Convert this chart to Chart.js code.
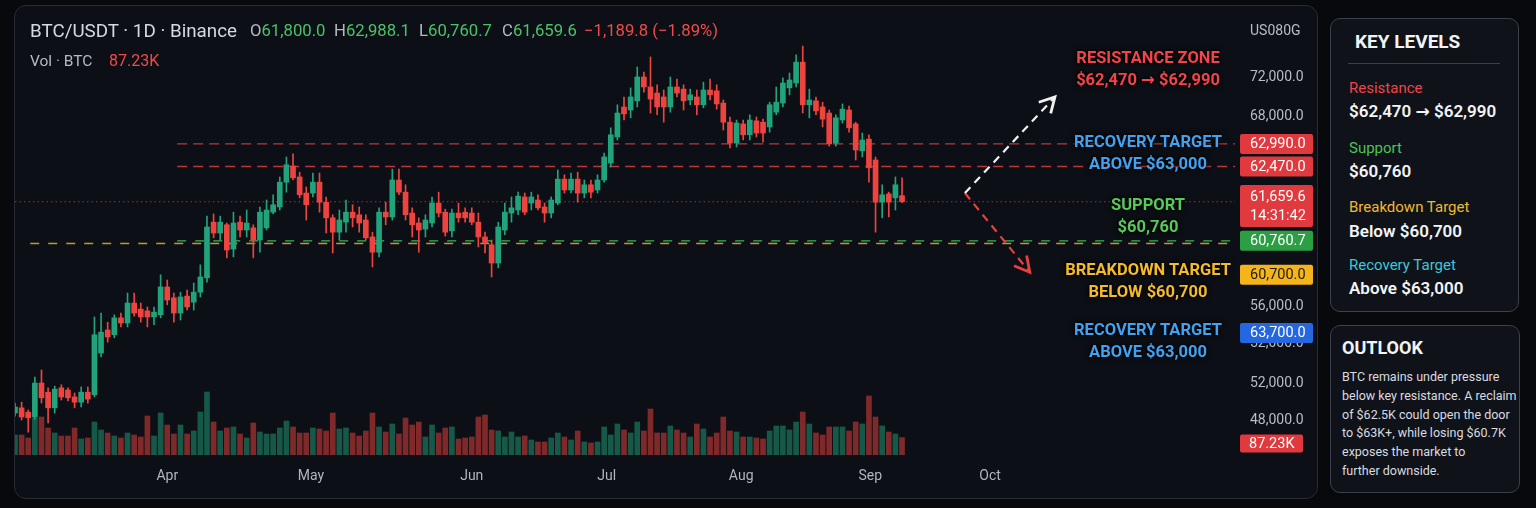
<!DOCTYPE html>
<html>
<head>
<meta charset="utf-8">
<script src="https://cdn.jsdelivr.net/npm/chart.js@4.4.1/dist/chart.umd.min.js"></script>
<style>
html, body { margin: 0; padding: 0; background: #08090d; }
#page { position: relative; width: 1536px; height: 508px; overflow: hidden; font-family: Roboto, "DejaVu Sans", sans-serif; }
#panel { position: absolute; left: 14px; top: 5px; width: 1302px; height: 492px; border: 1px solid #262b34; border-radius: 12px; background: #0c0f15; }
#c { position: absolute; left: 0; top: 0; }
.abs { position: absolute; white-space: nowrap; }
.hdr { font-size: 16.7px; line-height: 20px; top: 21px; color: #b7bac2; }
.up { color: #4cc26a; }
.dn { color: #f04a4a; }
.ann { position: absolute; left: 1038px; width: 220px; text-align: center; font-weight: 700; font-size: 16.5px; line-height: 22px; text-shadow: 0 0 6px #000, 0 0 3px #000; }
.card { position: absolute; box-sizing: border-box; border: 1.5px solid #3b404a; border-radius: 10px; background: #0f1319; }
.kl { position: absolute; left: 1349px; white-space: nowrap; font-size: 15px; line-height: 20px; }
.kv { position: absolute; left: 1349px; white-space: nowrap; font-size: 17px; line-height: 20px; font-weight: 600; color: #f3f4f6; }
</style>
</head>
<body>
<div id="page">
  <div id="panel"></div>
  <canvas id="c" width="1320" height="508"></canvas>

  <div class="abs" style="left:30px;top:19px;font-size:18.8px;line-height:24px;color:#d6d9e0;">BTC/USDT · 1D · Binance</div>
  <div class="abs hdr" style="left:250px;">O<span class="up">61,800.0</span></div>
  <div class="abs hdr" style="left:334px;">H<span class="up">62,988.1</span></div>
  <div class="abs hdr" style="left:419px;">L<span class="up">60,760.7</span></div>
  <div class="abs hdr" style="left:502px;">C<span class="up">61,659.6</span></div>
  <div class="abs hdr dn" style="left:584px;">−1,189.8 (−1.89%)</div>
  <div class="abs" style="left:30px;top:51px;font-size:15.5px;line-height:20px;color:#b7bac2;">Vol · BTC</div>
  <div class="abs dn" style="left:109px;top:51px;font-size:16px;line-height:20px;">87.23K</div>
  <div class="abs" style="left:1250px;top:21px;font-size:14px;line-height:18px;color:#b9bcc4;">US080G</div>

  <div class="ann" style="top:47px;color:#f2444a;">RESISTANCE ZONE<br>$62,470 → $62,990</div>
  <div class="ann" style="top:131px;color:#40a2f2;">RECOVERY TARGET<br>ABOVE $63,000</div>
  <div class="ann" style="top:194px;color:#58c95b;">SUPPORT<br>$60,760</div>
  <div class="ann" style="top:259px;color:#f6bb2a;">BREAKDOWN TARGET<br>BELOW $60,700</div>
  <div class="ann" style="top:319px;color:#40a2f2;">RECOVERY TARGET<br>ABOVE $63,000</div>

  <div class="card" style="left:1330px;top:18px;width:189px;height:294px;"></div>
  <div class="abs" style="left:1355px;top:30px;font-size:19px;line-height:24px;font-weight:700;color:#f2f3f5;">KEY LEVELS</div>
  <div class="abs" style="left:1348px;top:63px;width:152px;height:1px;background:#3a3f48;"></div>
  <div class="kl" style="top:78px;color:#f0444a;">Resistance</div>
  <div class="kv" style="top:101px;">$62,470 → $62,990</div>
  <div class="kl" style="top:138px;color:#4cc25a;">Support</div>
  <div class="kv" style="top:161px;">$60,760</div>
  <div class="kl" style="top:197px;color:#f2b92c;">Breakdown Target</div>
  <div class="kv" style="top:221px;">Below $60,700</div>
  <div class="kl" style="top:255px;color:#3fc6da;">Recovery Target</div>
  <div class="kv" style="top:278px;">Above $63,000</div>

  <div class="card" style="left:1330px;top:325px;width:190px;height:168px;"></div>
  <div class="abs" style="left:1342px;top:337px;font-size:18px;line-height:22px;font-weight:700;color:#f2f3f5;">OUTLOOK</div>
  <div class="abs" style="left:1342px;top:368px;font-size:12.5px;line-height:18.8px;color:#d9dbe0;">BTC remains under pressure<br>below key resistance. A reclaim<br>of $62.5K could open the door<br>to $63K+, while losing $60.7K<br>exposes the market to<br>further downside.</div>
</div>

<script>
// daily candles, oldest first
const openP = [
  56800, 56920, 56820, 56710, 57490, 57280, 56920, 57380, 57330, 57170,
  57050, 57280, 57220, 58180, 58710, 58600, 58990, 58870, 59330, 59190,
  59150, 59010, 59060, 59700, 59450, 59100, 59490, 59350, 59580, 59910,
  61190, 60940, 61130, 60570, 61190, 61010, 61060, 60780, 61060, 61420,
  61540, 62110, 62480, 62230, 61860, 61860, 62110, 61650, 61290, 60960,
  61190, 61420, 61360, 61240, 60850, 60500, 61420, 61310, 62160, 61880,
  61400, 61170, 61030, 61170, 61630, 61420, 60990, 61400, 61420, 61400,
  61190, 60850, 60670, 60250, 61010, 61400, 61470, 61770, 61630, 61700,
  61540, 61400, 61630, 62180, 61930, 62180, 61860, 62050, 61930, 62160,
  62550, 63150, 63840, 63770, 63980, 64530, 64300, 64160, 64070, 63840,
  64300, 64250, 64000, 64070, 63890, 64230, 64210, 63930, 63490, 63010,
  63450, 63200, 63520, 63490, 63380, 63720, 63930, 64280, 64390, 64870,
  63890, 63980, 63840, 63700, 63010, 63540, 63770, 63450, 62830, 63100,
  62620, 61650, 61840, 61750, 61800
];
const highP = [
  57030, 57050, 56870, 57630, 57790, 57380, 57420, 57450, 57380, 57260,
  57400, 57400, 59010, 59100, 58890, 59060, 59100, 59560, 59560, 59330,
  59240, 59240, 59980, 59860, 59560, 59580, 59630, 59790, 60210, 61330,
  61380, 61330, 61170, 61420, 61330, 61470, 61130, 61540, 61700, 61820,
  62230, 62690, 62760, 62340, 62000, 62320, 62320, 61770, 61360, 61470,
  61700, 61590, 61540, 61360, 60960, 61520, 61650, 62410, 62410, 62050,
  61520, 61290, 61360, 61770, 61880, 61490, 61490, 61630, 61520, 61520,
  61400, 60960, 60780, 61190, 61630, 61770, 61880, 61860, 61880, 61820,
  61630, 61770, 62390, 62280, 62320, 62340, 62160, 62160, 62280, 62780,
  63360, 63890, 64070, 64280, 64760, 64640, 64990, 64350, 64230, 64530,
  64480, 64350, 64250, 64230, 64410, 64480, 64350, 64000, 63610, 63540,
  63540, 63660, 63610, 63560, 63950, 64300, 64510, 64620, 65040, 65240,
  64250, 64070, 63950, 63770, 63660, 63910, 63860, 63490, 63240, 63200,
  62690, 62050, 61880, 62230, 62210
];
const lowP = [
  56730, 56640, 56360, 56660, 57030, 56570, 56800, 57100, 57080, 56920,
  56940, 57030, 57170, 58090, 58430, 58530, 58780, 58780, 59030, 58890,
  58780, 58830, 58990, 59290, 58890, 58940, 59170, 59170, 59470, 59810,
  60830, 60780, 60370, 60390, 60850, 60850, 60370, 60500, 61010, 61380,
  61470, 61880, 62160, 61750, 61240, 61770, 61420, 60940, 60480, 60780,
  60960, 61080, 60960, 60780, 60160, 60390, 61130, 61240, 61820, 61240,
  60850, 60500, 60850, 61080, 61310, 60870, 60850, 61190, 61190, 61130,
  60620, 60480, 59930, 60140, 60900, 61190, 61360, 61360, 61470, 61470,
  61190, 61290, 61590, 61860, 61860, 61650, 61750, 61750, 61860, 62110,
  62460, 63080, 63540, 63590, 63840, 64180, 63700, 63660, 63490, 63720,
  64070, 63770, 63890, 63660, 63820, 64000, 63790, 63310, 62900, 62920,
  63080, 63080, 63150, 63030, 63260, 63660, 63840, 64120, 64300, 63700,
  63590, 63660, 63380, 62940, 62940, 63470, 63260, 62620, 62690, 62110,
  60960, 61290, 61310, 61470, 61640
];
const closeP = [
  56940, 56710, 56690, 57490, 57150, 56920, 57350, 57170, 57150, 57050,
  57280, 57120, 58600, 58660, 58550, 58990, 58870, 59330, 59100, 59010,
  59010, 59120, 59700, 59400, 59100, 59470, 59240, 59580, 59930, 61080,
  60940, 61190, 60550, 61170, 61010, 61170, 60780, 61420, 61470, 61590,
  62110, 62510, 62210, 61820, 61590, 62110, 61650, 61290, 60960, 61240,
  61420, 61290, 61170, 60830, 60500, 61420, 61310, 62160, 61880, 61360,
  61130, 61010, 61240, 61630, 61400, 60960, 61400, 61290, 61290, 61190,
  60850, 60710, 60250, 61080, 61420, 61520, 61790, 61420, 61770, 61520,
  61400, 61700, 62180, 61930, 62180, 61860, 62050, 61880, 62160, 62690,
  63200, 63700, 63680, 64070, 64530, 64300, 64020, 63840, 63840, 64300,
  64160, 63980, 64120, 63890, 64230, 64120, 63910, 63490, 63010, 63470,
  63200, 63540, 63240, 63240, 63890, 63950, 64390, 64460, 64870, 63890,
  64000, 63750, 63560, 62990, 63590, 63790, 63360, 62850, 63080, 62440,
  61650, 61820, 61650, 62050, 61659.6
];
// volume in thousand BTC
const volumes = [
  100, 100, 85, 185, 190, 135, 110, 95, 95, 135,
  80, 85, 165, 125, 110, 95, 85, 110, 100, 90,
  195, 95, 210, 150, 105, 150, 105, 120, 215, 315,
  165, 120, 135, 140, 105, 85, 160, 115, 105, 105,
  135, 170, 140, 110, 110, 135, 130, 120, 210, 130,
  135, 110, 95, 120, 210, 140, 115, 155, 105, 185,
  150, 165, 90, 150, 110, 135, 140, 80, 85, 90,
  190, 200, 125, 120, 90, 115, 90, 95, 75, 65,
  65, 85, 110, 90, 75, 120, 65, 60, 65, 140,
  100, 155, 125, 110, 165, 120, 230, 110, 110, 145,
  125, 110, 90, 155, 130, 90, 110, 190, 120, 115,
  90, 90, 85, 80, 120, 145, 145, 125, 165, 215,
  155, 110, 100, 140, 140, 140, 120, 165, 155, 295,
  190, 145, 115, 105, 87.23
];

const monthLabels = ["Apr", "May", "Jun", "Jul", "Aug", "Sep", "Oct"];
const monthAt = [23, 44.7, 69, 89.4, 109.7, 129.2, 147.3];

const priceTicks = [64510, 63610, 59240, 58410, 57490, 56620];
const priceTickLabels = ["72,000.0", "68,000.0", "56,000.0", "52,000.0", "52,000.0", "48,000.0"];

const resistanceHigh = 62990;
const resistanceLow = 62470;
const lastPrice = 61659.6;
const supportLevel = 60760.7;
const breakdownLevel = 60700;

const tagTexts = [["62,990.0"], ["62,470.0"], ["61,659.6", "14:31:42"], ["60,760.7"], ["60,700.0"], ["63,700.0"]];
const tagAnchors = [62990, 62470, 61560, 60760.7, 59980, 58640];

// scenario arrows: [start index, start price, end index, end price]
const upArrow = [143.5, 61860, 157.1, 64070];
const downArrow = [143.5, 61860, 153.3, 60040];

const GREEN = "#22a37b";
const RED = "#ee4440";

const idx = openP.map((_, i) => i);
const isUp = idx.map(i => closeP[i] >= openP[i]);

const levelLines = [
    { value: resistanceHigh, from: 24.5, color: "rgba(222,62,64,0.85)", dash: [10, 6], width: 1.4 },
    { value: resistanceLow, from: 24.5, color: "rgba(222,62,64,0.85)", dash: [10, 6], width: 1.4 },
    { value: lastPrice, from: 0, color: "rgba(205,70,80,0.7)", dash: [1.5, 3], width: 1 },
    { value: supportLevel, from: 24.5, color: "rgba(50,160,85,0.95)", dash: [9, 9], width: 1.5 },
    { value: breakdownLevel, from: 2.3, color: "rgba(205,160,40,0.95)", dash: [9, 9], width: 1.5 }
];
const tagFills = ["#e03a3e", "#e03a3e", "#e03a3e", "#2c9f45", "#f4b41a", "#2467e0"];

function drawArrow(ctx, x0, y0, x1, y1, color) {
    ctx.save();
    ctx.strokeStyle = color;
    ctx.lineWidth = 2.2;
    ctx.setLineDash([8, 6]);
    ctx.beginPath();
    ctx.moveTo(x0, y0);
    ctx.lineTo(x1, y1);
    ctx.stroke();
    ctx.setLineDash([]);
    ctx.lineWidth = 2.8;
    const a = Math.atan2(y1 - y0, x1 - x0);
    ctx.beginPath();
    ctx.moveTo(x1 - 17 * Math.cos(a - 0.5), y1 - 17 * Math.sin(a - 0.5));
    ctx.lineTo(x1, y1);
    ctx.lineTo(x1 - 17 * Math.cos(a + 0.5), y1 - 17 * Math.sin(a + 0.5));
    ctx.stroke();
    ctx.restore();
}

const overlay = {
    id: "overlay",
    beforeDatasetsDraw(chart) {
        const { ctx, chartArea, scales } = chart;
        ctx.save();
        ctx.beginPath();
        ctx.rect(chartArea.left, chartArea.top, chartArea.right - chartArea.left, chartArea.bottom - chartArea.top);
        ctx.clip();
        levelLines.forEach(l => {
            const y = scales.y.getPixelForValue(l.value);
            ctx.strokeStyle = l.color;
            ctx.lineWidth = l.width;
            ctx.setLineDash(l.dash);
            ctx.beginPath();
            ctx.moveTo(scales.x.getPixelForValue(l.from), y);
            ctx.lineTo(chartArea.right, y);
            ctx.stroke();
        });
        ctx.restore();
    },
    afterDatasetsDraw(chart) {
        const { ctx, scales } = chart;
        const px = a => [scales.x.getPixelForValue(a[0]), scales.y.getPixelForValue(a[1]),
                         scales.x.getPixelForValue(a[2]), scales.y.getPixelForValue(a[3])];
        drawArrow(ctx, ...px(downArrow), "#e8403f");
        drawArrow(ctx, ...px(upArrow), "#f2f2f2");
    },
    afterDraw(chart) {
        const { ctx, scales } = chart;
        ctx.save();
        ctx.font = "14.5px Roboto";
        ctx.textBaseline = "middle";
        tagTexts.forEach((lines, i) => {
            const h = lines.length === 1 ? 20 : 42;
            const top = scales.y.getPixelForValue(tagAnchors[i]) - h / 2;
            ctx.fillStyle = tagFills[i];
            ctx.beginPath();
            ctx.roundRect(1240, top, 73, h, 2);
            ctx.fill();
            ctx.fillStyle = tagFills[i] === "#f4b41a" ? "#1b1b1b" : "#ffffff";
            lines.forEach((t, j) => ctx.fillText(t, 1250, top + (lines.length === 1 ? 10.5 : 12 + j * 19)));
        });
        // volume tag
        const vy = scales.v.getPixelForValue(volumes[volumes.length - 1]) + 6;
        ctx.fillStyle = "#e03a3e";
        ctx.beginPath();
        ctx.roundRect(1240, vy - 9, 63, 18, 2);
        ctx.fill();
        ctx.fillStyle = "#ffffff";
        ctx.fillText("87.23K", 1249, vy + 0.5);
        ctx.restore();
    }
};

Chart.defaults.font.family = "Roboto";

const ctx = document.getElementById("c").getContext("2d");
const chart = new Chart(ctx, {
    type: "bar",
    data: {
        datasets: [
            {
                data: idx.map(i => ({ x: i, y: volumes[i] })),
                yAxisID: "v",
                backgroundColor: idx.map(i => isUp[i] ? "rgba(34,163,123,0.5)" : "rgba(222,64,60,0.55)"),
                barThickness: 5,
                grouped: false,
                borderWidth: 0
            },
            {
                data: idx.map(i => ({ x: i, y: [lowP[i], highP[i]] })),
                backgroundColor: idx.map(i => isUp[i] ? GREEN : RED),
                barThickness: 1,
                grouped: false,
                borderWidth: 0
            },
            {
                data: idx.map(i => ({ x: i, y: [openP[i], closeP[i]] })),
                backgroundColor: idx.map(i => isUp[i] ? GREEN : RED),
                barThickness: 5,
                minBarLength: 1,
                grouped: false,
                borderWidth: 0
            }
        ]
    },
    options: {
        responsive: false,
        animation: false,
        layout: { padding: { left: 15, top: 40, right: 0, bottom: 0 } },
        plugins: { legend: { display: false }, tooltip: { enabled: false } },
        scales: {
            x: {
                type: "linear",
                min: 0,
                max: 184.3,
                offset: false,
                grid: { display: false, drawTicks: false, offset: false },
                border: { display: false },
                afterBuildTicks: s => { s.ticks = monthAt.map(v => ({ value: v })); },
                afterFit: s => { s.height = 53; },
                ticks: {
                    autoSkip: false,
                    maxRotation: 0,
                    padding: 13,
                    color: "#b2b5be",
                    font: { size: 14 },
                    callback: (v, i) => monthLabels[i]
                }
            },
            y: {
                position: "right",
                min: 55835,
                max: 65380,
                grid: { display: false, drawTicks: false },
                border: { display: false },
                afterBuildTicks: s => { s.ticks = priceTicks.map(v => ({ value: v })); },
                afterFit: s => { s.width = 85; },
                ticks: {
                    autoSkip: false,
                    padding: 15,
                    color: "#b9bcc4",
                    font: { size: 14 },
                    callback: (v, i) => priceTickLabels[i]
                }
            },
            v: { display: false, min: 0, max: 2075 }
        }
    },
    plugins: [overlay]
});
</script>
</body>
</html>
